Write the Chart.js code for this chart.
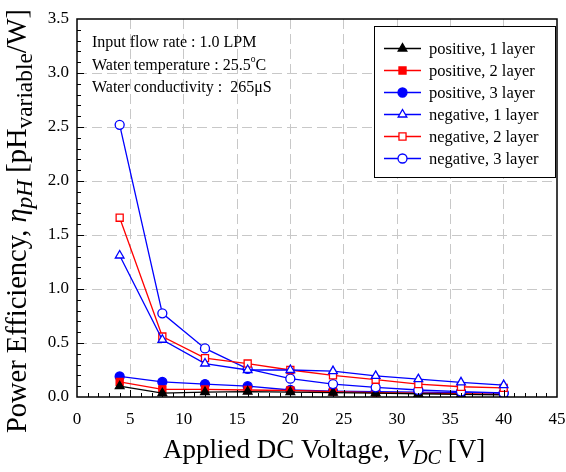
<!DOCTYPE html>
<html>
<head>
<meta charset="utf-8">
<script src="https://cdn.jsdelivr.net/npm/chart.js@4.4.0/dist/chart.umd.min.js"></script>
<style>
  html, body { margin: 0; padding: 0; background: #fff; }
  #wrap { width: 566px; height: 472px; }
</style>
</head>
<body>
<div id="wrap"><canvas id="myChart" width="566" height="472"></canvas></div>
<script>
const voltages = [4, 8, 12, 16, 20, 24, 28, 32, 36, 40];
const seriesNames = [
    'positive, 1 layer',
    'positive, 2 layer',
    'positive, 3 layer',
    'negative, 1 layer',
    'negative, 2 layer',
    'negative, 3 layer',
];
const pos1 = [0.10, 0.035, 0.045, 0.05, 0.045, 0.04, 0.035, 0.03, 0.025, 0.02];
const pos2 = [0.14, 0.07, 0.07, 0.065, 0.06, 0.05, 0.04, 0.035, 0.03, 0.025];
const pos3 = [0.19, 0.14, 0.12, 0.10, 0.065, 0.055, 0.05, 0.045, 0.04, 0.035];
const neg1 = [1.31, 0.53, 0.31, 0.25, 0.25, 0.24, 0.195, 0.165, 0.135, 0.11];
const neg2 = [1.66, 0.56, 0.36, 0.31, 0.25, 0.20, 0.16, 0.12, 0.095, 0.085];
const neg3 = [2.52, 0.775, 0.45, 0.26, 0.17, 0.12, 0.09, 0.065, 0.05, 0.037];
const xTicks = [0, 5, 10, 15, 20, 25, 30, 35, 40, 45];
const yTicks = [0.0, 0.5, 1.0, 1.5, 2.0, 2.5, 3.0, 3.5];

const SERIF = '"Liberation Serif", "Times New Roman", serif';

function pts(vals) {
    return vals.map((v, i) => ({ x: voltages[i], y: v }));
}

function makeSet(i, vals, color, style, filled) {
    return {
        label: seriesNames[i],
        data: pts(vals),
        borderColor: color,
        backgroundColor: filled ? color : '#fff',
        pointBorderColor: color,
        pointBackgroundColor: filled ? color : '#fff',
        pointStyle: style,
        pointRadius: style === 'circle' ? 4.5 : 5,
        pointBorderWidth: 1.3,
        borderWidth: 1.3,
        tension: 0,
        order: filled ? 2 : 1,
    };
}

// draws a list of text pieces: {t, it, sub, sup}
function pieceSize(p, size, subScale) {
    if (p.sub) return size * subScale;
    if (p.sup) return size * 0.6;
    return size;
}
function richText(ctx, parts, x, y, size, subScale = 0.72) {
    let cx = x;
    parts.forEach(p => {
        const s = pieceSize(p, size, subScale);
        let dy = 0;
        if (p.sub) dy = size * 0.22;
        if (p.sup) dy = -size * 0.38;
        ctx.font = (p.it ? 'italic ' : '') + s + 'px ' + SERIF;
        ctx.fillText(p.t, cx, y + dy);
        cx += ctx.measureText(p.t).width;
    });
    return cx - x;
}
function richWidth(ctx, parts, size, subScale = 0.72) {
    let w = 0;
    parts.forEach(p => {
        ctx.font = (p.it ? 'italic ' : '') + pieceSize(p, size, subScale) + 'px ' + SERIF;
        w += ctx.measureText(p.t).width;
    });
    return w;
}

const xTitle = [
    { t: 'Applied DC Voltage, ' },
    { t: 'V', it: true },
    { t: 'DC', it: true, sub: true },
    { t: ' [V]' },
];
const yTitle = [
    { t: 'Power Efficiency, ' },
    { t: 'η', it: true },
    { t: 'pH', it: true, sub: true },
    { t: ' [pH' },
    { t: 'variable', sub: true },
    { t: '/W]' },
];
const notes = [
    [{ t: 'Input flow rate : 1.0 LPM' }],
    [{ t: 'Water temperature : 25.5' }, { t: 'o', sup: true }, { t: 'C' }],
    [{ t: 'Water conductivity :  265μS' }],
];

const decor = {
    id: 'decor',
    afterDraw(chart) {
        const ctx = chart.ctx;
        const a = chart.chartArea;
        const xs = chart.scales.x, ys = chart.scales.y;
        ctx.save();
        ctx.strokeStyle = '#000';
        ctx.lineWidth = 1;
        // inward tick marks
        ctx.beginPath();
        for (let v = 1; v < 45; v++) {
            const px = Math.round(xs.getPixelForValue(v)) + 0.5;
            const len = v % 5 === 0 ? 7 : 4;
            ctx.moveTo(px, a.bottom);
            ctx.lineTo(px, a.bottom - len);
        }
        for (let k = 1; k < 35; k++) {
            const py = Math.round(ys.getPixelForValue(k / 10)) + 0.5;
            const len = k % 5 === 0 ? 7 : 4;
            ctx.moveTo(a.left, py);
            ctx.lineTo(a.left + len, py);
        }
        ctx.stroke();
        // frame
        ctx.lineWidth = 1.5;
        ctx.strokeRect(a.left, a.top, a.right - a.left, a.bottom - a.top);

        // notes
        ctx.fillStyle = '#000';
        ctx.textBaseline = 'middle';
        ctx.textAlign = 'left';
        notes.forEach((n, i) => richText(ctx, n, 92, 43 + i * 22.5, 16));

        // legend
        const lx = 374, ly = 26, lw = 181, lh = 151;
        ctx.fillStyle = '#fff';
        ctx.fillRect(lx, ly, lw, lh);
        ctx.lineWidth = 1;
        ctx.strokeStyle = '#000';
        ctx.strokeRect(lx + 0.5, ly + 0.5, lw, lh);
        chart.data.datasets.forEach((ds, i) => {
            const cy = 48.5 + i * 22;
            ctx.strokeStyle = ds.borderColor;
            ctx.lineWidth = 1.3;
            ctx.beginPath();
            ctx.moveTo(384, cy);
            ctx.lineTo(421, cy);
            ctx.stroke();
            ctx.fillStyle = ds.pointBackgroundColor;
            Chart.helpers.drawPoint(ctx, {
                pointStyle: ds.pointStyle,
                radius: ds.pointRadius,
                rotation: 0,
                borderWidth: ds.pointBorderWidth,
            }, 402.5, cy);
            ctx.fillStyle = '#000';
            ctx.font = '16.5px ' + SERIF;
            ctx.fillText(ds.label, 429, cy + 1);
        });

        // axis titles
        ctx.fillStyle = '#000';
        ctx.textBaseline = 'alphabetic';
        richText(ctx, xTitle, 163, 458, 27, 0.75);
        ctx.translate(26, 221);
        ctx.rotate(-Math.PI / 2);
        const yw = richWidth(ctx, yTitle, 28.5, 0.82);
        richText(ctx, yTitle, -yw / 2, 0, 28.5, 0.82);
        ctx.restore();
    }
};

const ctx = document.getElementById('myChart');

new Chart(ctx, {
    type: 'line',
    data: {
        datasets: [
            makeSet(0, pos1, '#000000', 'triangle', true),
            makeSet(1, pos2, '#ff0000', 'rect', true),
            makeSet(2, pos3, '#0000ff', 'circle', true),
            makeSet(3, neg1, '#0000ff', 'triangle', false),
            makeSet(4, neg2, '#ff0000', 'rect', false),
            makeSet(5, neg3, '#0000ff', 'circle', false),
        ]
    },
    options: {
        responsive: false,
        animation: false,
        layout: { padding: { left: 0, top: 19, right: 9, bottom: 0 } },
        plugins: {
            legend: { display: false },
            tooltip: { enabled: false },
        },
        scales: {
            x: {
                type: 'linear',
                min: 0,
                max: 45,
                afterFit: s => {
                    s.height = 75;
                    s.paddingLeft = 0;
                    s.paddingRight = 0;
                },
                afterBuildTicks: s => { s.ticks = xTicks.map(v => ({ value: v })); },
                ticks: {
                    padding: 12,
                    color: '#000',
                    font: { family: SERIF, size: 17 },
                    maxRotation: 0,
                },
                border: { display: false, dash: [10, 5] },
                grid: {
                    drawTicks: false,
                    color: c => (c.tick.value === 0 || c.tick.value === 45) ? 'rgba(0,0,0,0)' : '#c8c8c8',
                    lineWidth: 1,
                },
            },
            y: {
                min: 0,
                max: 3.5,
                afterFit: s => {
                    s.width = 77;
                    s.paddingTop = 0;
                    s.paddingBottom = 0;
                },
                afterBuildTicks: s => { s.ticks = yTicks.map(v => ({ value: v })); },
                ticks: {
                    padding: 8,
                    color: '#000',
                    font: { family: SERIF, size: 17 },
                    callback: v => v.toFixed(1),
                },
                border: { display: false, dash: [10, 5] },
                grid: {
                    drawTicks: false,
                    color: c => (c.tick.value === 0 || c.tick.value === 3.5) ? 'rgba(0,0,0,0)' : '#c8c8c8',
                    lineWidth: 1,
                },
            }
        }
    },
    plugins: [decor],
});
</script>
</body>
</html>
